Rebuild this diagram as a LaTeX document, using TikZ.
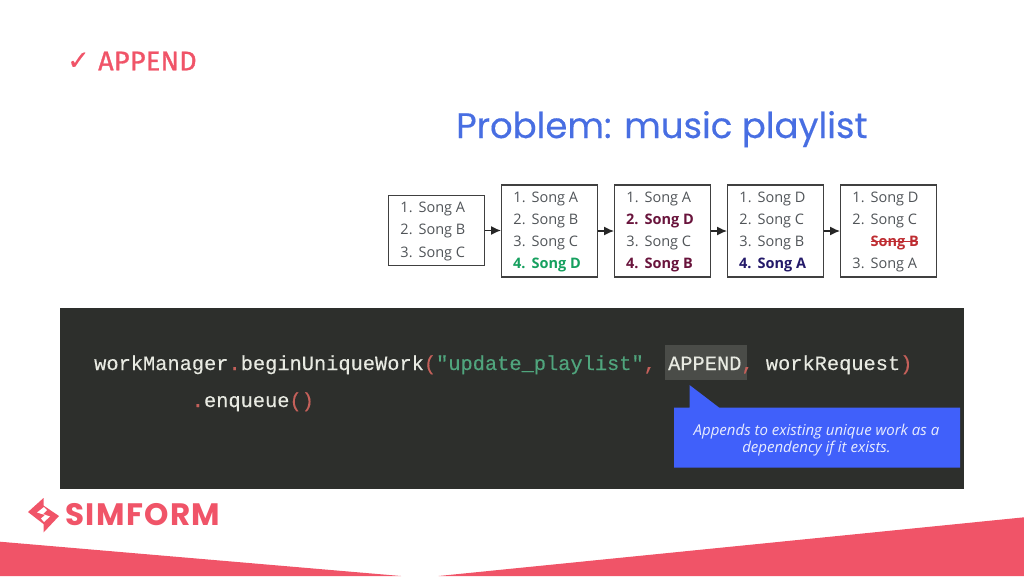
\documentclass[tikz,border=0pt]{standalone}
\usepackage{fontspec}
\usepackage{array}
\usepackage{xcolor}
\usetikzlibrary{arrows.meta}
\setmainfont{Open Sans}
\setmonofont[FakeBold=0.25]{Liberation Mono}
\newfontfamily\checkfont[FakeBold=0.5]{DejaVu Sans}
\newfontfamily\headfont[LetterSpace=1,FakeBold=1.2]{Fira Sans}
\newfontfamily\titlefont[FakeBold=0.3]{Poppins}
\newfontfamily\logofont[LetterSpace=4.5]{Poppins}
\definecolor{brand}{RGB}{240,84,104}
\definecolor{songgray}{RGB}{80,84,88}
\definecolor{songgreen}{RGB}{22,160,95}
\definecolor{songwine}{RGB}{105,20,60}
\definecolor{songnavy}{RGB}{35,25,105}
\definecolor{songred}{RGB}{190,45,50}
\definecolor{titleblue}{RGB}{72,110,226}
\definecolor{panel}{RGB}{45,47,44}
\definecolor{markbg}{RGB}{74,76,72}
\definecolor{calloutblue}{RGB}{64,96,250}
\definecolor{codelight}{RGB}{232,234,226}
\definecolor{codered}{RGB}{196,96,90}
\definecolor{codegreen}{RGB}{80,165,125}
\newcommand{\songtable}[1]{\fontsize{14.5}{22.3}\selectfont
    \begin{tabular}{@{}w{r}{23.5pt}@{\hspace{6pt}}w{l}{65pt}@{}}#1\end{tabular}}
\newcommand{\struck}[1]{\rlap{\rule[.3em]{47pt}{1.2pt}}#1}

\begin{document}
\begin{tikzpicture}[
    x=1pt, y=-1pt,
    song/.style={draw=black!75, line width=1.2pt, inner sep=0pt, minimum width=95.5pt,
                 anchor=west, text=songgray},
    arr/.style={-{Latex[length=10pt,width=9pt]}, line width=1.3pt, black!85},
    code/.style={anchor=base west, inner sep=0pt, font=\ttfamily\fontsize{20.35}{24}\selectfont,
                 text=codelight},
]
    \useasboundingbox (0,0) rectangle (1024,576);
    % heading
    \node[anchor=west, inner sep=0pt, text=brand, font=\checkfont\fontsize{27}{30}\selectfont] (tick) at (67,61) {✓};
    \node[anchor=west, inner sep=0pt, text=brand, font=\headfont\fontsize{27}{30}\selectfont] (head) at (98,61) {APPEND};
    \node[anchor=base west, inner sep=0pt, text=titleblue, font=\titlefont\fontsize{35.5}{40}\selectfont] (title) at (456,138) {Problem: music playlist};

    % playlists
    \node[song, minimum height=70.5pt] (list1) at (388,230.5) {\songtable{1.&Song A\\2.&Song B\\3.&Song C}};
    \node[song, minimum height=92pt] (list2) at (501,231) {\songtable{1.&Song A\\2.&Song B\\3.&Song C\\
        \color{songgreen}\bfseries 4.&\color{songgreen}\bfseries Song D}};
    \node[song, minimum height=92pt] (list3) at (614,231) {\songtable{1.&Song A\\
        \color{songwine}\bfseries 2.&\color{songwine}\bfseries Song D\\3.&Song C\\
        \color{songwine}\bfseries 4.&\color{songwine}\bfseries Song B}};
    \node[song, minimum height=92pt] (list4) at (727,231) {\songtable{1.&Song D\\2.&Song C\\3.&Song B\\
        \color{songnavy}\bfseries 4.&\color{songnavy}\bfseries Song A}};
    \node[song, minimum height=92pt] (list5) at (840,231) {\songtable{1.&Song D\\2.&Song C\\
        &\color{songred}\bfseries\struck{Song B}\\3.&Song A}};
    \draw[arr] (list1) -- (list1 -| list2.west);
    \draw[arr] (list2) -- (list3);
    \draw[arr] (list3) -- (list4);
    \draw[arr] (list4) -- (list5);

    % code panel
    \fill[panel] (60,308) rectangle (964,489);
    \fill[markbg] (665,345) rectangle (746.5,380);
    \node[code] (line1) at (94,370) {workManager\textcolor{codered}{.}beginUniqueWork\textcolor{codered}{(}\textcolor{codegreen}{"update\_playlist"}\textcolor{codered}{,} APPEND\textcolor{codered}{,} workRequest\textcolor{codered}{)}};
    \node[code] (line2) at (191.6,407) {\textcolor{codered}{.}enqueue\textcolor{codered}{()}};

    % callout
    \fill[calloutblue] (689.5,385) -- (719,407.5) -- (960,407.5) -- (960,467.5) -- (674,467.5) -- (674,407.5) -- (689.5,407.5) -- cycle;
    \node[inner sep=0pt, align=center, text=white!88!calloutblue, font=\itshape\fontsize{15}{16.5}\selectfont] (note) at (816.5,440)
        {Appends to existing unique work as a\\dependency if it exists.};

    % logo
    \fill[brand] (28,512) -- (43.5,498) -- (43.5,505.5) -- (59,516) -- (43.5,532.5) -- (43.5,524) -- cycle;
    \fill[white] (37,512.5) -- (44,507) -- (47,510) -- (43,514) -- (50,516.5) -- (44,522) -- (41,518.5) -- (45,515) -- cycle;
    \node[anchor=west, inner sep=0pt, text=brand, font=\logofont\bfseries\fontsize{31}{34}\selectfont] (logo) at (65,515) {SIMFORM};

    % bottom band
    \fill[brand] (0,541.7) -- (401,576) -- (0,576) -- cycle;
    \fill[brand] (438.5,576) -- (1024,517.3) -- (1024,576) -- cycle;
\end{tikzpicture}
\end{document}
